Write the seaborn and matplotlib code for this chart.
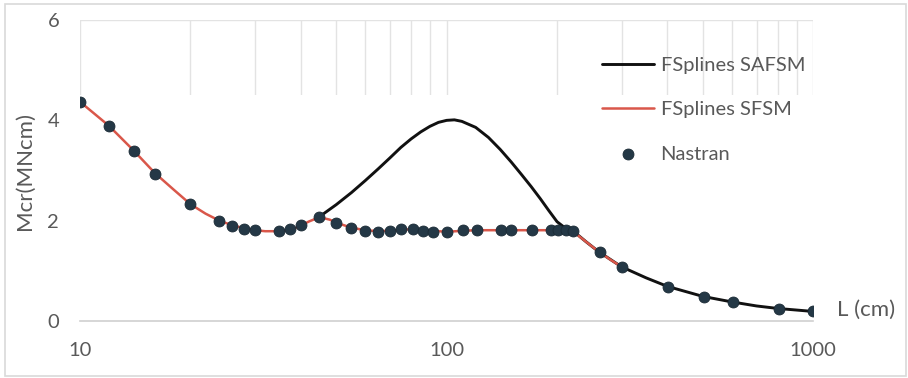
import matplotlib
matplotlib.use("Agg")
import matplotlib.pyplot as plt
import seaborn as sns
import pandas as pd
from matplotlib.patches import Rectangle
from matplotlib.ticker import LogLocator, NullFormatter, FixedLocator

# ---- data ----
nastran_L = [10, 12, 14, 16, 20, 24, 26, 28, 30, 35, 37.5, 40, 45, 50, 55, 60, 65, 70,
             75, 81, 86, 92, 100, 111, 121, 141, 150, 171, 192, 201, 212, 221,
             262, 300, 402, 503, 605, 806, 1000]
nastran_M = [4.37, 3.89, 3.39, 2.94, 2.33, 2.00, 1.90, 1.84, 1.81, 1.80, 1.83, 1.91, 2.08, 1.96,
             1.85, 1.80, 1.78, 1.80, 1.83, 1.83, 1.79, 1.78, 1.77, 1.82, 1.81, 1.81, 1.81,
             1.81, 1.81, 1.81, 1.81, 1.80, 1.37, 1.08, 0.68, 0.48, 0.38, 0.23, 0.205]

sfsm_L = [10, 12, 14, 16, 18, 20, 22, 24, 26, 28, 30, 32, 35, 38, 40, 42, 45, 48, 50, 55,
          60, 65, 70, 80, 90, 100, 120, 150, 170, 200, 220, 240, 260, 280, 300]
sfsm_M = [4.37, 3.89, 3.40, 2.95, 2.62, 2.33, 2.14, 2.00, 1.91, 1.85, 1.81, 1.79, 1.79, 1.83,
          1.90, 1.98, 2.07, 2.02, 1.96, 1.86, 1.81, 1.79, 1.80, 1.83, 1.80, 1.78, 1.81, 1.81,
          1.81, 1.81, 1.80, 1.58, 1.38, 1.22, 1.08]

safsm_L = [45, 50, 55, 60, 65, 70, 75, 80, 85, 90, 95, 100, 105, 110, 120, 130, 140, 150,
           160, 170, 180, 190, 200, 210, 220, 240, 260, 300, 350, 400, 500, 600, 700, 800, 1000]
safsm_M = [2.08, 2.32, 2.56, 2.80, 3.03, 3.25, 3.46, 3.63, 3.77, 3.88, 3.96, 4.00, 4.01, 3.98,
           3.86, 3.66, 3.42, 3.17, 2.92, 2.68, 2.44, 2.20, 1.98, 1.86, 1.81, 1.58, 1.38, 1.08,
           0.86, 0.69, 0.49, 0.38, 0.30, 0.25, 0.19]

xticks = [10, 100, 1000]
yticks = [0, 2, 4, 6]

# ---- style ----
sns.set_style("white")
plt.rcParams['font.family'] = ['Lato', 'DejaVu Sans']
txt = '#595959'

fig = plt.figure(figsize=(9.08, 3.78), dpi=100)
ax = fig.add_axes([0.0881, 0.1508, 0.8076, 0.7962])

df_safsm = pd.DataFrame({'L': safsm_L, 'M': safsm_M})
df_sfsm = pd.DataFrame({'L': sfsm_L, 'M': sfsm_M})
df_nas = pd.DataFrame({'L': nastran_L, 'M': nastran_M})

sns.lineplot(data=df_safsm, x='L', y='M', ax=ax, color='#111111', linewidth=2.1,
             label='FSplines SAFSM', sort=False, zorder=2)
sns.lineplot(data=df_sfsm, x='L', y='M', ax=ax, color='#d9574a', linewidth=1.8,
             label='FSplines SFSM', sort=False, zorder=3)
sns.scatterplot(data=df_nas, x='L', y='M', ax=ax, color='#243846', s=62,
                edgecolor='#1a2a35', linewidth=0.6, label='Nastran', zorder=4)

ax.set_xscale('log')
ax.set_xlim(10, 1000)
ax.set_ylim(0, 6)
ax.xaxis.set_major_locator(FixedLocator(xticks))
ax.set_xticklabels([str(v) for v in xticks])
ax.xaxis.set_minor_locator(LogLocator(base=10, subs=range(2, 10)))
ax.xaxis.set_minor_formatter(NullFormatter())
ax.set_yticks(yticks)
ax.set_yticklabels([str(v) for v in yticks])

ax.set_axisbelow(True)
ax.grid(True, which='both', axis='x', color='#e3e3e3', linewidth=1.0)
ax.grid(True, which='major', axis='y', color='#e3e3e3', linewidth=1.0)
# white panel covering lower part of grid (as in the reference)
ax.axhspan(0, 4.5, color='white', zorder=0.8, linewidth=0)

for s in ['left', 'right', 'top']:
    ax.spines[s].set_visible(False)
ax.spines['bottom'].set_color('#d0d0d0')
ax.spines['bottom'].set_linewidth(1.2)

ax.tick_params(axis='both', which='both', length=0, labelsize=14.5, colors=txt)
ax.tick_params(axis='x', pad=15)
ax.tick_params(axis='y', pad=15)

ax.set_xlabel('')
ax.set_ylabel('Mcr(MNcm)', fontsize=16, color=txt, labelpad=9)

ax.text(1.033, 0.037, 'L (cm)', transform=ax.transAxes, ha='left', va='center',
        fontsize=16, color=txt, clip_on=False)

leg = ax.legend(loc='upper left', bbox_to_anchor=(0.712, 0.877), frameon=False,
                fontsize=14.5, handlelength=2.6, handletextpad=0.3, labelspacing=1.35,
                borderpad=0, borderaxespad=0)
for t in leg.get_texts():
    t.set_color(txt)

fig.patches.append(Rectangle((0.006, 0.004), 0.992, 0.985, transform=fig.transFigure,
                             fill=False, edgecolor='#d9d9d9', linewidth=1.2))

fig.savefig('out.png', dpi=100)
